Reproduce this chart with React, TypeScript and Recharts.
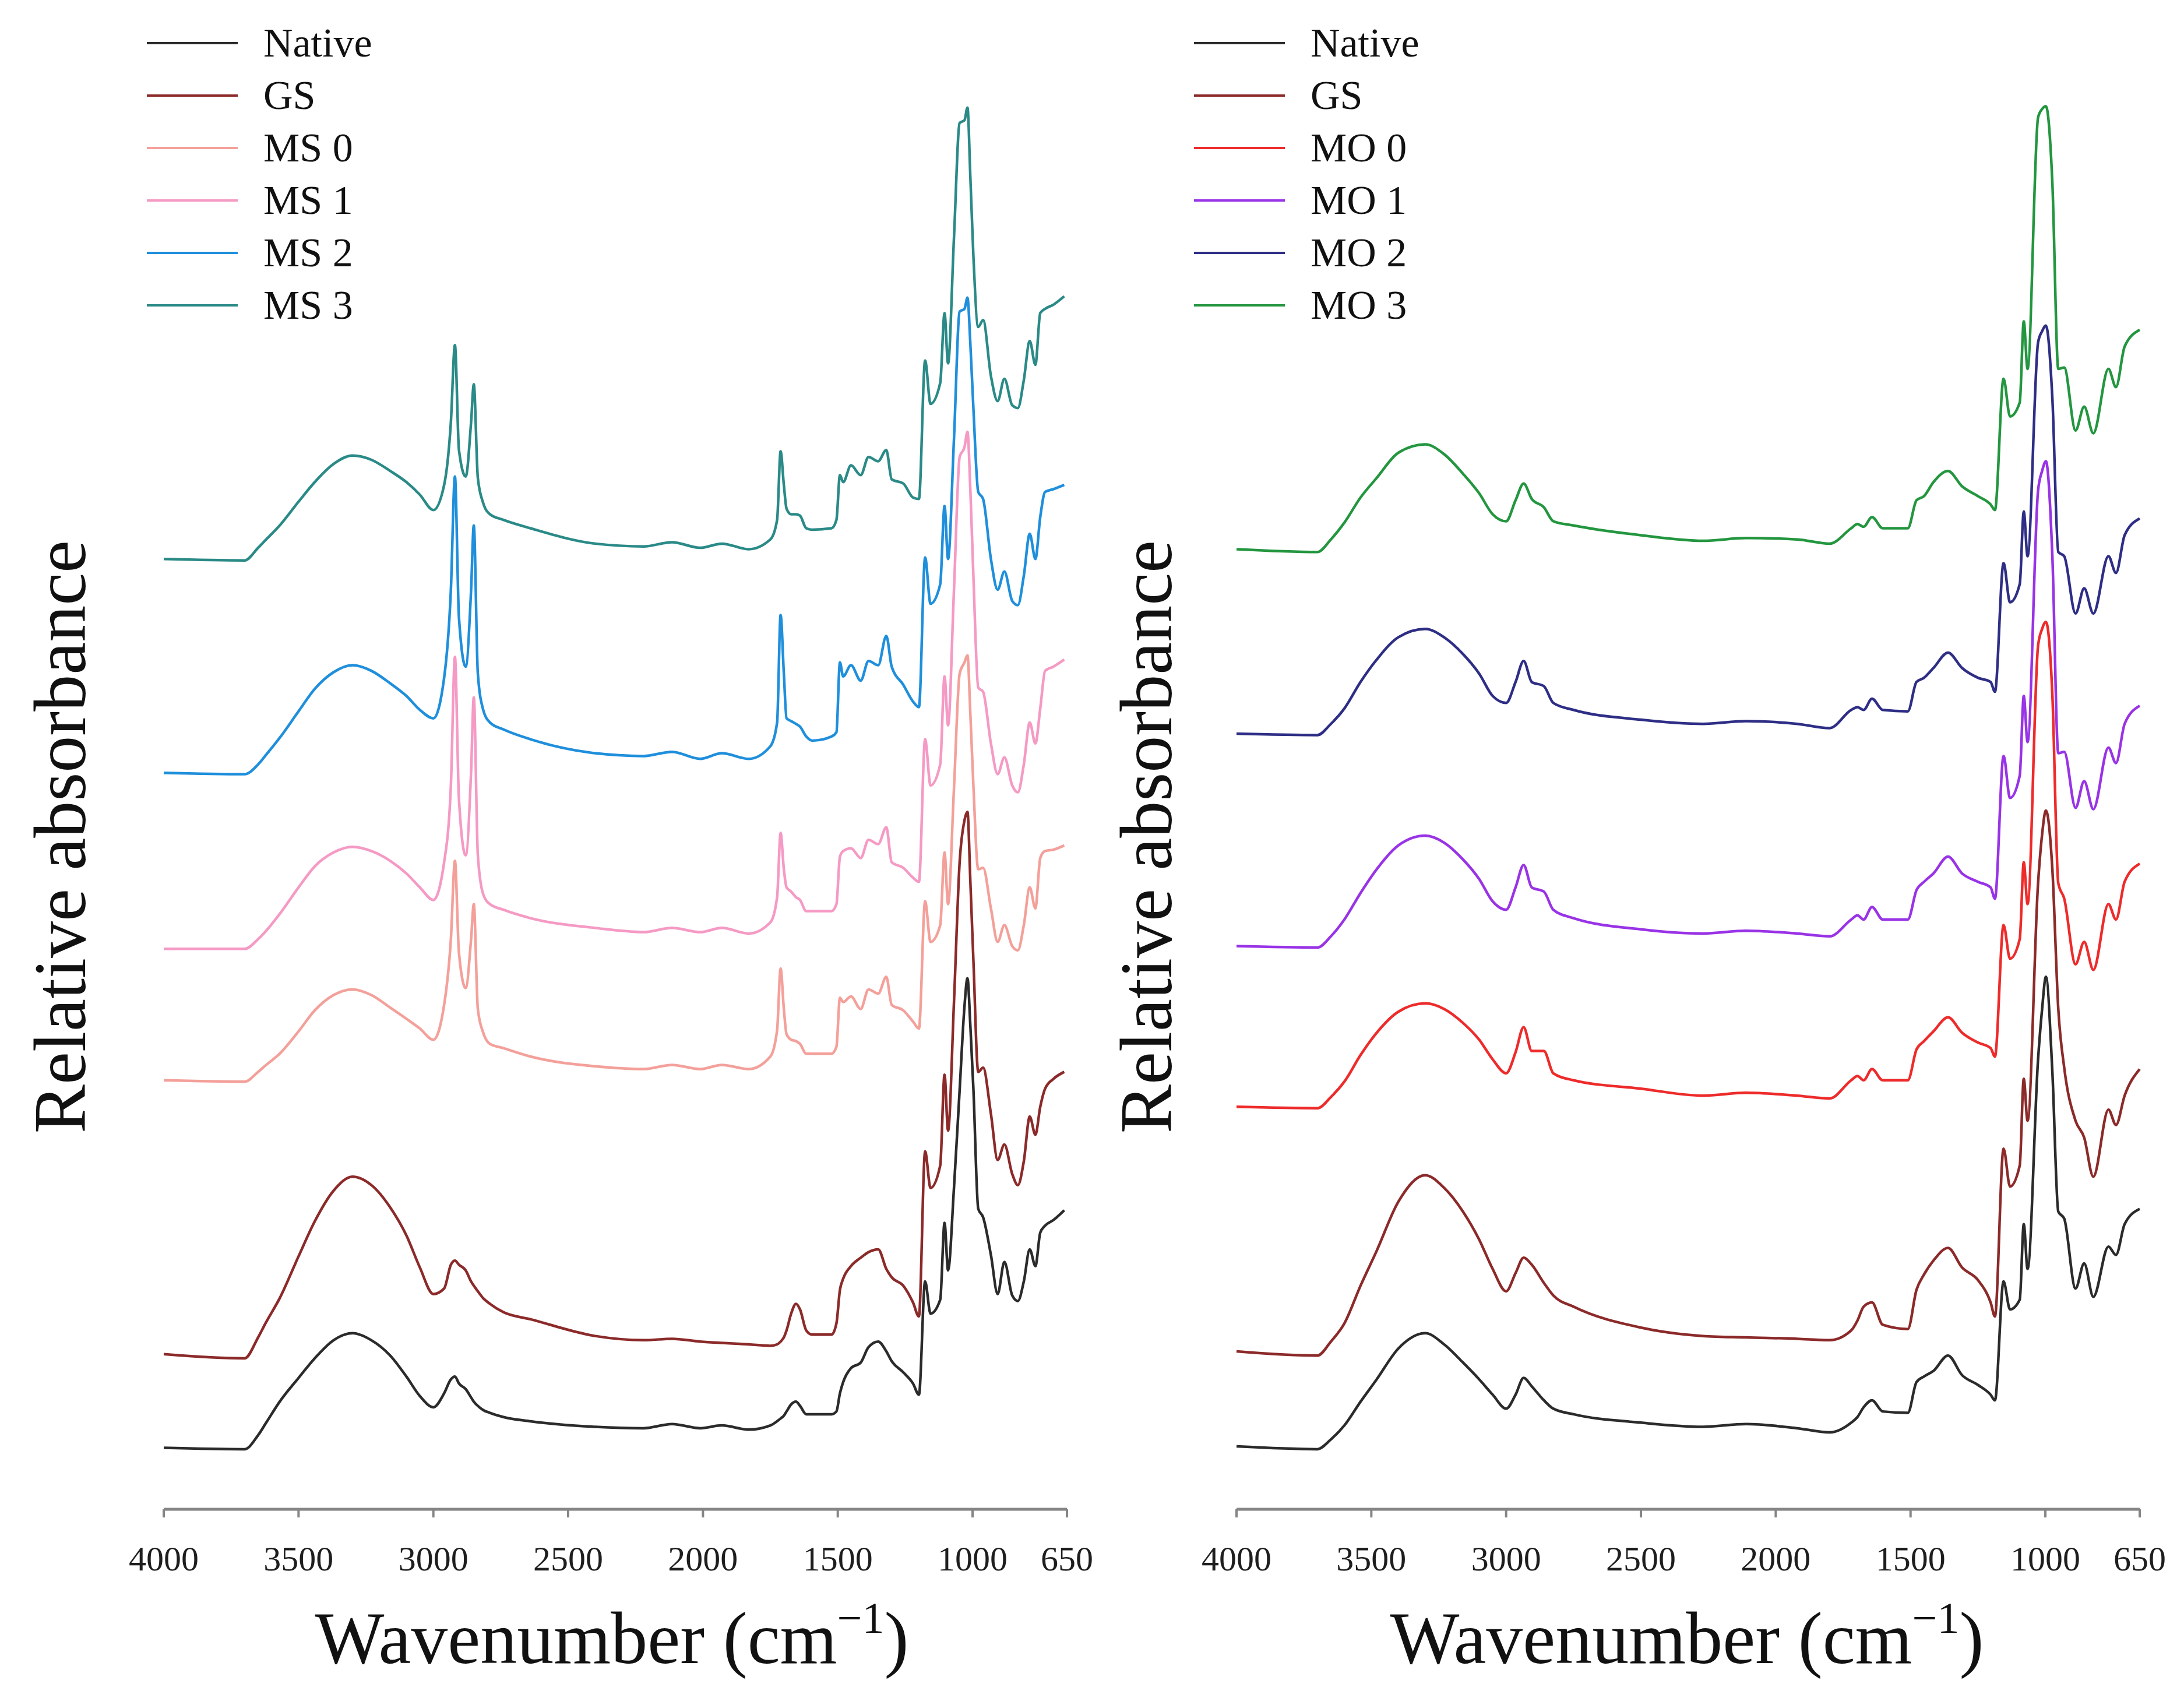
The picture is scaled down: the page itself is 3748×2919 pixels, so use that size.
import { LineChart, Line, XAxis, YAxis, Legend } from "recharts";

const SERIF = '"Liberation Serif", "Times New Roman", serif';
const TICKS = [4000, 3500, 3000, 2500, 2000, 1500, 1000, 650];

// ---- left panel (MS) ----
const wnLeft = [
  4000, 3700, 3650, 3620, 3570, 3500, 3440, 3370, 3300, 3230,
  3160, 3100, 3050, 3000, 2960, 2935, 2920, 2905, 2880, 2860,
  2850, 2835, 2815, 2790, 2740, 2640, 2400, 2220, 2115, 2010,
  1930, 1830, 1750, 1725, 1712, 1700, 1690, 1673, 1655, 1640,
  1617, 1595, 1523, 1505, 1492, 1480, 1451, 1415, 1386, 1350,
  1320, 1300, 1257, 1221, 1199, 1176, 1156, 1120, 1104, 1091,
  1069, 1048, 1030, 1019, 1008, 997, 979, 961, 932, 907,
  882, 853, 832, 810, 788, 767, 749, 731, 700, 660,
];
const nativeLeft = [
  44, 43, 53, 62, 77, 94, 108, 121, 126, 121,
  110, 95, 81, 73, 83, 93, 95, 90, 86, 80,
  77, 74, 71, 69, 66, 63, 59, 58, 61, 58,
  60, 57, 60, 63, 65, 67, 70, 75, 77, 74,
  68, 68, 68, 70, 83, 91, 101, 105, 116, 120,
  113, 106, 98, 90, 82, 163, 140, 150, 205, 171,
  230, 300, 360, 380, 345, 301, 215, 209, 182, 154,
  177, 153, 149, 163, 186, 174, 198, 203, 207, 214,
];
const gsLeft = [
  111, 108, 123, 134, 151, 181, 206, 228, 238, 232,
  216, 196, 173, 154, 158, 175, 178, 175, 171, 163,
  160, 156, 151, 147, 141, 136, 124, 121, 122, 120,
  119, 118, 117, 118, 120, 123, 128, 140, 147, 143,
  128, 125, 125, 133, 157, 165, 174, 180, 184, 186,
  172, 166, 160, 148, 138, 256, 230, 246, 311, 271,
  363, 463, 493, 499, 448, 393, 313, 316, 283, 250,
  261, 240, 232, 249, 281, 268, 288, 301, 308, 313,
];
const ms0 = [
  307, 306, 313, 318, 326, 342, 357, 368, 372, 368,
  359, 351, 344, 336, 361, 408, 464, 398, 373, 408,
  433, 358, 341, 333, 330, 324, 317, 315, 318, 315,
  318, 315, 324, 343, 387, 358, 340, 336, 335, 333,
  326, 326, 326, 331, 366, 363, 367, 358, 372, 369,
  381, 361, 357, 349, 344, 435, 406, 418, 470, 433,
  516, 598, 606, 611, 568, 518, 458, 459, 430, 406,
  418, 403, 400, 418, 445, 430, 466, 471, 472, 475,
];
const ms1 = [
  401, 401, 408, 414, 426, 445, 460, 470, 474, 471,
  464, 455, 445, 436, 463, 518, 610, 508, 468, 528,
  581, 468, 440, 433, 429, 423, 416, 413, 416, 413,
  416, 412, 420, 438, 484, 458, 445, 442, 438, 436,
  428, 428, 428, 433, 467, 471, 473, 466, 479, 476,
  488, 463, 459, 452, 449, 551, 518, 533, 596, 561,
  658, 753, 760, 771, 728, 668, 588, 585, 548, 526,
  538, 518, 513, 533, 563, 548, 573, 600, 603, 608,
];
const ms2 = [
  527, 526, 533, 540, 552, 571, 587, 599, 604, 600,
  591, 582, 572, 566, 595, 658, 739, 638, 603, 658,
  704, 598, 572, 563, 558, 551, 541, 539, 542, 537,
  541, 537, 546, 563, 640, 598, 566, 564, 562, 560,
  553, 550, 553, 556, 606, 596, 604, 593, 607, 604,
  625, 603, 590, 578, 574, 681, 648, 662, 718, 680,
  766, 857, 859, 867, 833, 788, 728, 723, 680, 658,
  671, 650, 647, 668, 698, 680, 710, 728, 730, 733,
];
const ms3 = [
  680, 679, 688, 694, 704, 721, 735, 748, 754, 751,
  743, 735, 726, 715, 733, 778, 833, 758, 739, 778,
  805, 738, 720, 712, 708, 702, 691, 689, 692, 688,
  691, 687, 694, 708, 757, 733, 716, 712, 712, 711,
  702, 701, 702, 708, 740, 735, 747, 740, 753, 750,
  758, 737, 734, 724, 723, 822, 791, 806, 856, 820,
  910, 992, 994, 1003, 952, 897, 846, 851, 811, 793,
  809, 790, 788, 808, 836, 819, 856, 859, 862, 868,
];

// ---- right panel (MO) ----
const wnRight = [
  4000, 3700, 3650, 3600, 3540, 3480, 3400, 3300, 3230, 3160,
  3100, 3050, 3000, 2965, 2935, 2905, 2860, 2825, 2750, 2500,
  2270, 2110, 1920, 1800, 1720, 1697, 1674, 1643, 1603, 1510,
  1478, 1450, 1415, 1361, 1309, 1250, 1203, 1187, 1155, 1131,
  1095, 1080, 1066, 1027, 1012, 998, 974, 952, 930, 888,
  856, 822, 766, 738, 706, 650,
];
const nativeRight = [
  45, 43, 50, 60, 77, 93, 115, 126, 118, 105,
  93, 82, 72, 82, 94, 88, 78, 72, 68, 62,
  59, 61, 58, 55, 62, 66, 73, 78, 70, 69,
  91, 95, 99, 110, 96, 89, 82, 78, 163, 143,
  150, 204, 172, 322, 358, 381, 313, 213, 208, 158,
  176, 152, 188, 182, 204, 215,
];
const gsRight = [
  113, 110, 120, 133, 160, 185, 220, 239, 230, 213,
  193, 172, 156, 169, 180, 175, 162, 153, 145, 130,
  124, 123, 122, 121, 128, 135, 145, 148, 132, 129,
  157, 168, 178, 187, 173, 164, 148, 138, 258, 231,
  246, 308, 278, 448, 483, 500, 458, 358, 316, 278,
  266, 238, 286, 275, 296, 315,
];
const mo0 = [
  288, 287, 295, 306, 325, 341, 356, 362, 358, 348,
  336, 322, 312, 327, 345, 328, 328, 312, 307, 301,
  296, 298, 296, 294, 307, 310, 307, 315, 307, 307,
  329, 335, 342, 352, 341, 334, 330, 324, 418, 394,
  408, 463, 433, 618, 630, 635, 583, 448, 437, 390,
  406, 386, 433, 422, 449, 462,
];
const mo1 = [
  403, 402, 410, 422, 441, 458, 475, 482, 477, 465,
  451, 435, 429, 445, 461, 445, 442, 429, 423, 415,
  412, 414, 412, 410, 422, 425, 422, 431, 422, 422,
  443, 449, 455, 467, 455, 449, 445, 437, 539, 509,
  525, 582, 549, 729, 743, 750, 682, 541, 542, 502,
  521, 501, 545, 534, 562, 575,
];
const mo2 = [
  555, 554, 562, 573, 592, 608, 624, 630, 624, 612,
  598, 582, 577, 592, 607, 592, 589, 577, 572, 565,
  562, 564, 562, 559, 572, 574, 572, 580, 572, 571,
  592, 595, 602, 613, 602, 595, 592, 585, 677, 649,
  662, 714, 682, 835, 843, 847, 795, 685, 682, 641,
  659, 641, 682, 670, 697, 709,
];
const mo3 = [
  687, 685, 694, 706, 724, 738, 756, 762, 755, 741,
  727, 712, 707, 722, 734, 723, 717, 707, 704, 697,
  693, 695, 694, 691, 702, 705, 703, 710, 702, 702,
  722, 725, 735, 743, 732, 725, 719, 715, 809, 782,
  792, 850, 816, 996, 1002, 1004, 949, 816, 817, 772,
  789, 770, 816, 803, 832, 844,
];

type Series = { key: string; name: string; color: string; values: number[] };

const LEFT_SERIES: Series[] = [
  { key: "native", name: "Native", color: "#2b2b2b", values: nativeLeft },
  { key: "gs", name: "GS", color: "#8c2a2a", values: gsLeft },
  { key: "ms0", name: "MS 0", color: "#f4a09a", values: ms0 },
  { key: "ms1", name: "MS 1", color: "#f59ac4", values: ms1 },
  { key: "ms2", name: "MS 2", color: "#1f8fdc", values: ms2 },
  { key: "ms3", name: "MS 3", color: "#2a8a87", values: ms3 },
];

const RIGHT_SERIES: Series[] = [
  { key: "native", name: "Native", color: "#2b2b2b", values: nativeRight },
  { key: "gs", name: "GS", color: "#8c2a2a", values: gsRight },
  { key: "mo0", name: "MO 0", color: "#ee2b2b", values: mo0 },
  { key: "mo1", name: "MO 1", color: "#9933e6", values: mo1 },
  { key: "mo2", name: "MO 2", color: "#2e2e86", values: mo2 },
  { key: "mo3", name: "MO 3", color: "#23963f", values: mo3 },
];

const buildRows = (wns: number[], series: Series[]) =>
  wns.map((wn, i) => {
    const row: Record<string, number> = { wn };
    series.forEach((s) => (row[s.key] = s.values[i]));
    return row;
  });

const HEIGHT = 2919;
const AXIS_H = 329;

interface PanelProps {
  series: Series[];
  wns: number[];
  left: number;
  width: number;
  yAxisWidth: number;
  marginRight: number;
  legendLeft: number;
  yLabelX: number;
  xLabelX: number;
}

const Panel = ({ series, wns, left, width, yAxisWidth, marginRight, legendLeft, yLabelX, xLabelX }: PanelProps) => {
  const rows = buildRows(wns, series);

  const renderLegend = (props: any) => {
    const payload: any[] = props.payload || [];
    const ordered = series
      .map((s) => payload.find((p) => p.dataKey === s.key))
      .filter(Boolean);
    return (
      <div style={{ fontFamily: SERIF, fontSize: 70, color: "#111" }}>
        {ordered.map((item: any) => (
          <div key={item.dataKey} style={{ display: "flex", alignItems: "center", height: 90 }}>
            <svg width={156} height={10} style={{ display: "block" }}>
              <line x1={0} y1={5} x2={156} y2={5} stroke={item.color} strokeWidth={4} />
            </svg>
            <span style={{ marginLeft: 44, lineHeight: 1, whiteSpace: "nowrap" }}>{item.value}</span>
          </div>
        ))}
      </div>
    );
  };

  const yLabel = () => (
    <text
      x={yLabelX}
      y={1436}
      transform={`rotate(-90 ${yLabelX} 1436)`}
      textAnchor="middle"
      fontFamily={SERIF}
      fontSize={126}
      fill="#111"
    >
      Relative absorbance
    </text>
  );

  const xLabel = () => (
    <text x={xLabelX} y={2854} textAnchor="middle" fontFamily={SERIF} fontSize={126} fill="#111">
      Wavenumber (cm
      <tspan fontSize={76} dy={-52}>−1</tspan>
      <tspan dy={52}>)</tspan>
    </text>
  );

  return (
    <div style={{ position: "absolute", left, top: 0 }}>
      <LineChart width={width} height={HEIGHT} data={rows} margin={{ top: 0, right: marginRight, bottom: 0, left: 0 }}>
        <XAxis
          dataKey="wn"
          type="number"
          domain={[650, 4000]}
          reversed
          ticks={TICKS}
          interval={0}
          height={AXIS_H}
          axisLine={{ stroke: "#858585", strokeWidth: 5 }}
          tickLine={{ stroke: "#858585", strokeWidth: 4 }}
          tickSize={14}
          tickMargin={48}
          tick={{ fontSize: 60, fill: "#1e1e1e", fontFamily: SERIF }}
          label={xLabel}
        />
        <YAxis
          type="number"
          domain={[0, 1080]}
          width={yAxisWidth}
          axisLine={false}
          tickLine={false}
          tick={false}
          label={yLabel}
        />
        <Legend
          layout="vertical"
          align="center"
          verticalAlign="middle"
          content={renderLegend}
          wrapperStyle={{ left: legendLeft, top: 29, width: 600, height: 540 }}
        />
        {series.map((s) => (
          <Line
            key={s.key}
            dataKey={s.key}
            name={s.name}
            stroke={s.color}
            strokeWidth={4.5}
            type="monotone"
            dot={false}
            activeDot={false}
            isAnimationActive={false}
          />
        ))}
      </LineChart>
    </div>
  );
};

const App = () => (
  <div style={{ position: "absolute", left: 0, top: 0, width: 3748, height: HEIGHT, background: "#fff", fontFamily: SERIF }}>
    <Panel
      series={LEFT_SERIES}
      wns={wnLeft}
      left={0}
      width={1880}
      yAxisWidth={281}
      marginRight={49}
      legendLeft={252}
      yLabelX={146}
      xLabelX={1050}
    />
    <Panel
      series={RIGHT_SERIES}
      wns={wnRight}
      left={1880}
      width={1868}
      yAxisWidth={242}
      marginRight={76}
      legendLeft={169}
      yLabelX={130}
      xLabelX={1015}
    />
  </div>
);

export default App;
